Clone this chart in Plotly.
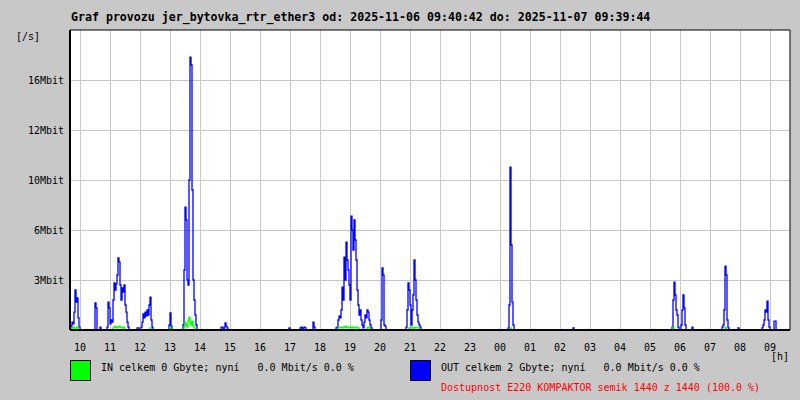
import numpy as np
import plotly.graph_objects as go

# ---------------- data ----------------
N_SAMPLES = 720            # 2-minute samples over 24 h
START_HOUR = 9 + 40 / 60   # 09:40
SAMPLE_HOURS = 2 / 60

hour_tick_vals = list(range(10, 34))
hour_tick_text = ["10", "11", "12", "13", "14", "15", "16", "17", "18", "19", "20", "21",
                  "22", "23", "00", "01", "02", "03", "04", "05", "06", "07", "08", "09"]

y_tick_vals = [3.4, 6.8, 10.2, 13.6, 17.0]
y_tick_text = ["3Mbit", "6Mbit", "10Mbit", "12Mbit", "16Mbit"]
y_max = 20.4

# OUT traffic bursts (Mbit/s): start sample index + consecutive values
out_starts = [1, 25, 37, 67, 99, 113, 151, 219, 230, 243, 266, 311, 336, 438, 503,
              602, 611, 622, 652, 668, 692, 704]
out_values = [
    [0.27, 0.54, 0.41, 1.22, 2.72, 1.9, 2.18, 0.82, 0.2],
    [1.84, 1.5, 0, 0, 0, 0.2],
    [0.2, 1.9, 1.5, 0.41, 0.68, 0.54, 2.04, 3.2, 2.72, 3.13, 3.74, 4.9, 4.62, 3.06, 2.04,
     2.86, 2.58, 3.06, 1.7, 1.22, 0.54, 0.2],
    [0.14, 0.14, 0, 0, 0.2, 0.54, 1.09, 0.82, 1.22, 0.95, 1.36, 1.02, 1.7, 2.24, 0.68, 0.2],
    [0.34, 1.16, 0.27],
    [0.34, 4.08, 8.36, 7.48, 3.4, 3.06, 10.2, 18.56, 18.02, 9.52, 3.4, 2.04, 1.02, 0.34],
    [0.2, 0.2, 0, 0.14, 0.48, 0.27, 0.14],
    [0.14],
    [0.14, 0.2, 0, 0.14, 0.2, 0.14],
    [0.54, 0.2],
    [0.14, 0.2, 0.68, 0.95, 0.82, 1.36, 2.92, 2.04, 4.96, 3.4, 5.98, 4.76, 4.08, 3.06, 2.04,
     7.75, 6.8, 5.44, 7.48, 6.12, 4.76, 2.72, 1.7, 1.02, 1.36, 0.68, 0.34, 0.14, 0.54, 1.02,
     0.82, 1.36, 1.22, 0.68, 0.34, 0.14],
    [0.68, 4.22, 3.74, 0.34, 0.27],
    [0.2, 1.36, 3.2, 2.72, 1.7, 0.34, 1.36, 2.38, 4.76, 3.4, 2.04, 1.02, 0.54, 0.34, 0.2],
    [0.14, 1.7, 11.08, 5.78, 1.9, 0.34],
    [0.14],
    [0.2, 2.04, 3.26, 2.38, 1.36, 1.02, 0.2],
    [0.34, 1.36, 2.38, 1.5, 0.34],
    [0.2],
    [0.2, 0.34, 1.36, 4.35, 3.74, 0.68, 0.14],
    [0.14],
    [0.14, 0.34, 0.68, 1.36, 1.22, 1.97, 0.68, 0.2],
    [0.61, 0.61],
]

# IN traffic bursts (Mbit/s)
in_starts = [2, 43, 80, 100, 114, 268, 339, 440, 603, 655]
in_values = [
    [0.14, 0.2, 0.14, 0, 0.14, 0.2, 0.14],
    [0.14, 0.2, 0.27, 0.2, 0.14, 0.2, 0.27, 0.2, 0.14, 0.14, 0.2, 0.14],
    [0.14],
    [0.2],
    [0.2, 0.54, 0.34, 0.2, 0.68, 0.88, 0.54, 0.34, 0.61, 0.27, 0.14],
    [0.14, 0.2, 0.2, 0.14, 0.2, 0.14, 0.2, 0.27, 0.2, 0.14, 0.2, 0.2, 0.14, 0.2, 0.14, 0.2,
     0.14, 0.14, 0.2, 0.14, 0.14, 0, 0, 0, 0, 0, 0, 0, 0, 0.14, 0.2, 0.14],
    [0.14, 0.14, 0.2, 0.14, 0, 0.14, 0.2, 0.14, 0.14, 0.14],
    [0.14],
    [0.2],
    [0.2],
]

title_text = "Graf provozu jer_bytovka_rtr_ether3 od: 2025-11-06 09:40:42 do: 2025-11-07 09:39:44"
in_text = "IN celkem 0 Gbyte; nyní   0.0 Mbit/s 0.0 %"
out_text = "OUT celkem 2 Gbyte; nyní   0.0 Mbit/s 0.0 %"
avail_text = "Dostupnost E220 KOMPAKTOR semik 1440 z 1440 (100.0 %)"


def build_series(starts, values):
    s = np.zeros(N_SAMPLES)
    for st, vals in zip(starts, values):
        s[st:st + len(vals)] = vals
    return s


x = START_HOUR + np.arange(N_SAMPLES) * SAMPLE_HOURS
out_series = build_series(out_starts, out_values)
in_series = build_series(in_starts, in_values)

# ---------------- figure ----------------
L, R, T, B = 70, 790, 30, 330
FONT = "DejaVu Sans Mono"
BG = "#c8c8c8"


def px(xp):
    return (xp - L) / (R - L)


def py(yp):
    return (B - yp) / (B - T)


fig = go.Figure()
fig.add_trace(go.Scatter(x=x, y=out_series, mode="lines", line=dict(color="#0000ff", width=1.3, shape="hv"),
                         hoverinfo="skip", showlegend=False))
fig.add_trace(go.Scatter(x=x, y=in_series, mode="lines", line=dict(color="#00ff00", width=1.3, shape="hv"),
                         hoverinfo="skip", showlegend=False))

grid_col = "#c8c8c8"
fig.update_layout(
    width=800, height=400,
    margin=dict(l=L, r=800 - R, t=T, b=400 - B),
    paper_bgcolor=BG, plot_bgcolor="#ffffff",
    font=dict(family=FONT, size=10, color="#000000"),
    xaxis=dict(range=[START_HOUR, START_HOUR + 24], tickvals=hour_tick_vals, ticktext=hour_tick_text,
               showgrid=True, gridcolor=grid_col, gridwidth=1, zeroline=False,
               ticks="outside", ticklen=8, tickcolor="rgba(0,0,0,0)", showline=False,
               tickfont=dict(family=FONT, size=10)),
    yaxis=dict(range=[0, y_max], tickvals=y_tick_vals, ticktext=y_tick_text,
               showgrid=True, gridcolor=grid_col, gridwidth=1, zeroline=False,
               ticks="outside", ticklen=3, tickcolor="rgba(0,0,0,0)", showline=False,
               tickfont=dict(family=FONT, size=10)),
)

shapes = [
    dict(type="rect", xref="paper", yref="paper", x0=0, x1=1, y0=0, y1=1,
         line=dict(color="#000000", width=1), layer="above"),
    dict(type="line", xref="paper", yref="paper", x0=px(70), x1=px(70), y0=0, y1=1,
         line=dict(color="#000000", width=2), layer="above"),
    dict(type="line", xref="paper", yref="paper", x0=0, x1=1, y0=0, y1=0,
         line=dict(color="#000000", width=2), layer="above"),
    dict(type="rect", xref="paper", yref="paper", x0=px(70.5), x1=px(90.5), y0=py(360.5), y1=py(380.5),
         fillcolor="#00ff00", line=dict(color="#000000", width=1)),
    dict(type="rect", xref="paper", yref="paper", x0=px(410.5), x1=px(430.5), y0=py(360.5), y1=py(380.5),
         fillcolor="#0000ff", line=dict(color="#000000", width=1)),
]
fig.update_layout(shapes=shapes)


def nb(s):
    return s.replace(" ", "\u00a0")


annotations = [
    dict(text="<b>" + nb(title_text) + "</b>", x=px(69), y=py(18), font=dict(family=FONT, size=11.6)),
    dict(text="[/s]", x=px(14), y=py(37), font=dict(family=FONT, size=10)),
    dict(text=nb(in_text), x=px(99), y=py(367), font=dict(family=FONT, size=10)),
    dict(text=nb(out_text), x=px(439), y=py(367), font=dict(family=FONT, size=10)),
    dict(text=nb(avail_text), x=px(439), y=py(387), font=dict(family=FONT, size=10, color="#ff0000")),
    dict(text="[h]", x=px(769), y=py(356), font=dict(family=FONT, size=10)),
]
for a in annotations:
    a.update(xref="paper", yref="paper", xanchor="left", yanchor="middle", showarrow=False)
fig.update_layout(annotations=annotations)

fig.write_html("out.html", config={"displayModeBar": False},
               post_script="document.body.style.margin='0';document.body.style.background='%s';" % BG)
